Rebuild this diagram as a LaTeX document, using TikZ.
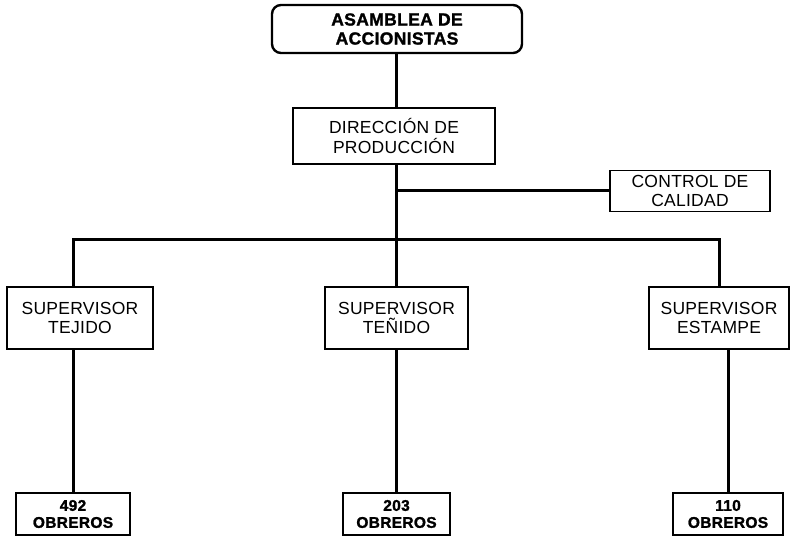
\documentclass[tikz,border=0pt]{standalone}
\usepackage{fontspec}
\setmainfont{Liberation Sans}[LetterSpace=1.5]
\newfontfamily\heavyfont{Liberation Sans Bold}[FakeBold=1.5,LetterSpace=2]
\begin{document}
\begin{tikzpicture}[x=1pt,y=-1pt,
  box/.style={draw=black,line width=1.8pt,rectangle,inner sep=0pt,align=center,
    font=\fontsize{17.5}{19.5}\selectfont},
  headbox/.style={box,rounded corners=9pt,line width=2.4pt,
    font=\heavyfont\fontsize{17.5}{19}\selectfont},
  countbox/.style={box,font=\heavyfont\fontsize{15.5}{17}\selectfont},
  conn/.style={draw=black,line width=3pt}]
\useasboundingbox (0,0) rectangle (791,537);

% boxes (pixel positions, y downward)
\node[headbox,minimum width=250pt,minimum height=48pt] (asam) at (397,29) {ASAMBLEA DE\\ACCIONISTAS};
\node[box,minimum width=202pt,minimum height=56pt] (dir) at (394,136) {DIRECCIÓN DE\\PRODUCCIÓN};
\node[box,minimum width=160pt,minimum height=41pt] (ctrl) at (690,191) {CONTROL DE\\CALIDAD};

\node[box,minimum width=146pt,minimum height=62pt] (sup1) at (80,318) {SUPERVISOR\\TEJIDO};
\node[box,minimum width=143pt,minimum height=62pt] (sup2) at (396.5,318) {SUPERVISOR\\TEÑIDO};
\node[box,minimum width=140pt,minimum height=62pt] (sup3) at (719,318) {SUPERVISOR\\ESTAMPE};

\node[countbox,minimum width=114pt,minimum height=42pt] (ob1) at (73,514) {492\\OBREROS};
\node[countbox,minimum width=107pt,minimum height=42pt] (ob2) at (396.5,514) {203\\OBREROS};
\node[countbox,minimum width=110pt,minimum height=42pt] (ob3) at (728,514) {110\\OBREROS};

% junction points on the trunk
\coordinate (tap) at (396,191);
\coordinate (bar) at (396,239);

% connectors
\draw[conn] (asam.south -| tap) -- (dir.north -| tap);
\draw[conn] (dir.south -| tap) -- (bar) -- (sup2.north -| bar);
\draw[conn] (tap) -- (tap -| ctrl.west);
\draw[conn] (sup1.north -| ob1.north) |- (bar);
\draw[conn] (bar) -| (sup3.north);
\draw[conn] (sup1.south -| ob1.north) -- (ob1.north);
\draw[conn] (sup2.south -| ob2.north) -- (ob2.north);
\draw[conn] (sup3.south -| ob3.north) -- (ob3.north);
\end{tikzpicture}
\end{document}
